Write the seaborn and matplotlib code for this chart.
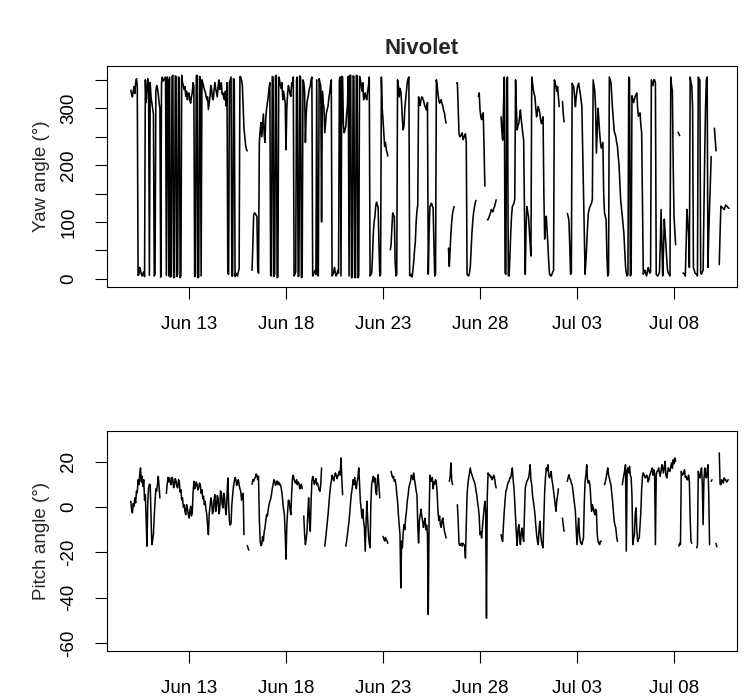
import numpy as np
import pandas as pd
import matplotlib
matplotlib.use("Agg")
import matplotlib.pyplot as plt
import seaborn as sns

nan = np.nan

# ---------------- data (hourly samples, 24 per day, from Jun 10 00:00) ----------------
start_time = "2013-06-10 00:00"
sample_hours = 1

yaw_angle = [
    332, 325, 320, 330, 338, 326, 345, 352, 340, 6, 8, 20, 15, 8, 5, 10, 12, 4, 350, 310, 330, 352, 345, 6,            # Jun 10
    345, 320, 310, 300, 290, 5, 8, 330, 340, 335, 325, 310, 300, 3, 345, 355, 348, 350, 352, 355, 6, 355, 350, 5,      # Jun 11
    355, 3, 5, 356, 358, 2, 3, 357, 356, 4, 8, 355, 352, 2, 6, 358, 345, 340, 333, 338, 321, 330, 315, 325,            # Jun 12
    327, 315, 309, 320, 327, 345, 339, 4, 5, 357, 358, 2, 3, 356, 355, 5, 350, 345, 339, 333, 330, 322, 315, 320,      # Jun 13
    298, 310, 321, 340, 333, 318, 315, 332, 345, 335, 327, 320, 339, 350, 333, 340, 345, 325, 327, 318, 315, 330, 304, 345,  # Jun 14
    10, 8, 345, 350, 355, 5, 5, 352, 350, 4, 10, 6, 5, 12, 18, 356, 355, 350, 340, 300, 265, 250, 235, 228,            # Jun 15
    225, nan, nan, nan, nan, nan, 15, 60, 112, 116, 115, 112, 110, 20, 10, 240, 260, 275, 250, 270, 290, 255, 240, 285,  # Jun 16
    300, 310, 320, 335, 345, 6, 5, 356, 355, 4, 8, 357, 358, 2, 3, 355, 350, 340, 335, 345, 315, 330, 320, 310,        # Jun 17
    227, 300, 327, 340, 333, 325, 321, 345, 339, 355, 5, 8, 12, 350, 355, 4, 5, 357, 355, 2, 3, 350, 345, 330,         # Jun 18
    240, 290, 310, 318, 327, 335, 339, 350, 355, 5, 8, 12, 15, 8, 350, 6, 5, 352, 345, 340, 100, 330, 310, 300,        # Jun 19
    257, 275, 292, 298, 304, 318, 327, 340, 350, 5, 8, 12, 20, 10, 5, 8, 15, 10, 350, 355, 5, 356, 355, 270,           # Jun 20
    257, 262, 268, 290, 304, 356, 5, 358, 358, 2, 3, 357, 356, 3, 2, 358, 357, 2, 5, 356, 350, 340, 330, 345,          # Jun 21
    315, 322, 327, 318, 315, 330, 339, 355, 5, 8, 10, 40, 80, 100, 110, 128, 135, 130, 125, 60, 5, 8, 355, 300,        # Jun 22
    280, 255, 233, 240, 228, 222, 216, nan, nan, 51, 60, 90, 116, 112, 110, 30, 5, 8, 350, 340, 320, 335, 330, 310,    # Jun 23
    279, 262, 270, 300, 315, 330, 345, 352, 355, 6, 5, 8, 3, 15, 30, 50, 65, 100, 120, 130, 320, 310, 305, 315,        # Jun 24
    320, 318, 314, 308, 303, 300, 297, 310, 8, 80, 127, 130, 133, 128, 125, 60, 5, 8, 350, 340, 326, 315, 309, 312,    # Jun 25
    315, 308, 304, 296, 292, 282, 274, nan, nan, 54, 22, 50, 80, 100, 115, 122, 127, nan, nan, 344, 345, 300, 256, 250,  # Jun 26
    251, 254, 257, 245, 248, 252, 255, 240, 8, 6, 5, 10, 22, 50, 81, 100, 116, 125, 133, 138, nan, nan, 321, 327,      # Jun 27
    298, 285, 280, 290, 292, 230, 163, nan, nan, 104, 104, 108, 112, 116, 122, 119, 118, 124, 127, 133, 139, nan, nan, nan,  # Jun 28
    nan, nan, 285, 260, 244, 300, 355, 10, 8, 350, 355, 6, 5, 40, 80, 110, 127, 130, 133, 140, 350, 300, 262, 270,     # Jun 29
    273, 285, 297, 280, 268, 255, 244, 120, 8, 90, 127, 118, 110, 85, 62, 40, 355, 345, 332, 325, 320, 300, 285, 295,  # Jun 30
    303, 298, 291, 280, 273, 278, 285, 150, 70, 95, 110, 85, 60, 30, 9, 6, 5, 8, 12, 15, 350, 345, 338, 330,           # Jul 01
    338, 320, 303, nan, nan, nan, 312, 290, 276, nan, nan, nan, 115, 110, 103, 60, 8, 10, 344, 340, 338, 320, 303, 320,  # Jul 02
    332, 340, 344, 335, 326, 315, 303, 230, 150, 80, 8, 30, 60, 90, 115, 122, 127, 130, 133, 140, 350, 340, 330, 300,  # Jul 03
    221, 260, 300, 280, 257, 240, 230, 235, 240, 150, 116, 110, 104, 40, 5, 8, 355, 350, 345, 320, 298, 280, 260, 255,  # Jul 04
    250, 240, 233, 215, 200, 170, 139, 125, 110, 95, 80, 50, 22, 10, 5, 8, 355, 350, 5, 8, 322, 315, 310, 316,         # Jul 05
    321, 324, 327, 300, 286, 290, 292, 270, 257, 130, 8, 12, 15, 10, 5, 12, 20, 15, 10, 12, 350, 345, 340, 350,        # Jul 06
    350, 345, 8, 6, 5, 8, 12, 60, 122, 60, 5, 50, 105, 80, 60, 35, 15, 10, 8, 5, 355, 340, 330, 200,                   # Jul 07
    110, 85, 60, nan, nan, 258, 255, 252, nan, nan, nan, 10, 10, 8, 5, 60, 122, 100, 80, 20, 355, 345, 340, 300,       # Jul 08
    20, 15, 10, 9, 8, 5, 355, 352, 350, 10, 8, 12, 15, 120, 220, 300, 350, 355, 20, 80, 127, 170, 215, nan,            # Jul 09
    nan, nan, 265, 245, 225, nan, nan, nan, 25, 80, 128, 126, 125, 124, 122, 126, 130, 128, 127, 125, 124, nan, nan, nan,  # Jul 10
]

pitch_angle = [
    2.5, -1, -2.6, 1.5, 0.3, 4, 1.8, 7, 6.2, 12, 9.8, 14, 17.2, 11, 13.5, 9, 12, 3, 5.4, -6, -17.3, 2, 8.4, 10,                  # Jun 10
    9.8, -4, -16.6, -15, -12, -4, 2.5, 8, 7, 10, 13.5, 9, 4, nan, nan, nan, nan, nan, nan, nan, 6, 10, 13, 11,                  # Jun 11
    12.8, 10.5, 9.8, 13, 12, 8.5, 9.8, 12.5, 11.3, 9, 8.4, 12, 11.3, 6.5, 7.6, 3, 4, 0, 1, -2, -3.4, 1, -0.4, -3,               # Jun 12
    -4.9, -2, 0.3, -4, -2.6, 6, 11.3, 8, 9.1, 11, 9.8, 7.5, 8.4, 10.5, 9.8, 6, 7.6, 3.5, 4.7, 1, 2.5, -1, -3.4, -8,             # Jun 13
    -12.2, -3, 0.3, 4, 2.5, -3, -1.9, 3, 5.4, -2, 0.3, 5, 4, -3, -1.2, 7, 6.2, 1, -0.4, 6, 4, -1, -3.4, 5,                      # Jun 14
    12.8, 2, -6.3, -8, -7, 1, 5.4, 9, 11.3, 13, 12, 9.5, 10.5, 12, 9.8, 8, 6.9, 3, 5.4, 6, -12.2, nan, nan, nan,                # Jun 15
    -17, -18, -19, nan, nan, nan, 10, 12, 11.3, 12.5, 13, 14.5, 14, 12, 13.5, -5, -15, -17, -16.6, -13, -15, -11, -9, -6,       # Jun 16
    -3.4, -4, -1.2, 1, 2.5, 3.5, 5.4, 8, 9.8, 12, 11.3, 9.5, 10.5, 11.5, 9.8, 11, 9.8, 10, 8.4, 6, 2.5, -1, -3.4, -12,          # Jun 17
    -23, -8, -2, 3, 2.5, -1, -3.4, 6, 12.8, 14, 12, 11, 10.5, 12, 9.8, 11, 10.5, 8, 9, 10, 8, nan, -4, -12,                     # Jun 18
    -16.6, -14, -10.7, -3, 4, -6, -10.7, 2, 11.3, 13.5, 12, 10, 11.3, 12.5, 9.8, 10.5, 9, 7.5, 6.9, 10, 17.2, nan, nan, nan,    # Jun 19
    -17.3, -14, -10.7, -7, -3.4, 1, 5.4, 9, 11.3, 14, 12.8, 11.5, 13.5, 15, 14.2, 12.5, 13.5, 14.5, 15.7, 14, 21.6, 13, 5.4, nan,  # Jun 20
    nan, nan, -17.3, -15, -12.2, -9, -6.3, -2, 2.5, 6, 8.4, 12, 9.8, 13, 9.8, 8, 11.3, 13, 17.2, 10, 2.5, -1, -4.9, -1,         # Jun 21
    -6.3, -9, -19.5, -8, 2.5, -5, -12.2, -16, -18, 2, 9.8, 12, 13.5, 11, 12.8, 7, 5.4, 12, 14.2, 9, 4, nan, nan, nan,           # Jun 22
    -13, -14, -15, -13.5, -14.5, -15, -16, nan, nan, nan, 15.7, 14, 12.8, 13.5, 11.3, 12, 9.8, 6, 2.5, -3, -8, -12, -35.7, -15,  # Jun 23
    -18, -11, -7.8, -10, -4.9, -2, 2.5, 5, 8.4, 10, 11.3, 14, 13.5, 12, 15, 12, 9.8, 7, 5.4, -8, -15.9, -6, -3.4, -1,           # Jun 24
    -4, -6, -9, -7, -5, -10, -8, -12, -47.4, -5, 14, 12, 11.3, 13, 8, 11, 10, 12, 11, 6, -2, -6, -4, -8,                        # Jun 25
    -9, -6, -4.9, -8, -10.7, -12, -13.7, nan, nan, nan, 11.3, 13, 19.4, 12, 9.8, nan, nan, nan, nan, nan, 1, -6, -16, -17,      # Jun 26
    -16.6, -16, -17.3, -16, -16.6, -17, -22.5, -8, 5.4, 10, 12.8, 15, 17.2, 15, 14.2, 13, 12, 11, 9.8, 7, 5.4, 2, -0.4, -4,     # Jun 27
    -12.2, -11, -13.7, -9, -4.9, -1, 2.5, -2, -49, 5, 15, 14, 14.2, 13, 13.5, 12, 12.8, 14, 12.8, 10, 8.4, nan, nan, nan,       # Jun 28
    nan, nan, -12.2, -14, -15.2, -8, -1.9, 3, 6.9, 8, 9.8, 11, 11.3, 13, 12.8, 15, 17.2, 12, 8.4, 2, -4.9, -12, -17, -10,       # Jun 29
    -7.8, -13, -16.6, -11, -9.3, -13, -15.2, -3, 8.4, 10, 11.3, 12, 12.8, 15, 18.6, 12, 9.8, 5, 2.5, 0, -3.4, -8, -12.2, -15,   # Jun 30
    -16.6, -10, -6.3, -12, -15.2, -17, -18, -5, 6.9, 13, 17.2, 16, 18.6, 14, 12.8, 14, 15.7, 12, 9.8, 7, 4, 1, -1.9, 3,         # Jul 01
    5, 8, nan, nan, nan, nan, -4.9, -8, -10.7, nan, nan, nan, 11.3, 13, 14.2, 12.5, 12, 10.5, 9.8, 7, 4, 1, -1.9, -10,          # Jul 02
    -16.6, -10, -4.9, -12, -15, -16, -16.6, -15, -13.7, 2, 11.3, 14, 18.6, 12, 10.5, 11.5, 9.8, 4, -1.9, 1, -0.4, -2, -3.4, -1,  # Jul 03
    -1.9, -12, -15.2, -16, -16.6, -15, -15.2, nan, nan, nan, 9.8, 11, 12.8, 15, 17.2, 14, 12.8, 11, 9.8, 6, 2.5, -2, -6.3, -8,  # Jul 04
    -9.3, -13, -15.2, nan, nan, nan, nan, nan, 9.8, 12, 14.2, 16, 18.6, -19.5, 16, 17.2, 15, 17.9, 14, 12.8, 5, -16.6, -14, -12.2,  # Jul 05
    -3, -0.4, -10, -15.2, -14, -13.7, -8, -1.9, 8, 13.5, 15, 14.2, 13, 12.8, 14, 13.5, 11, 12, 14, 15, 16, 17.2, 14, 16.4,      # Jul 06
    15, -16.6, 14, 15.7, 16, 17.2, 15, 13.5, 16, 18.6, 17, 15, 18, 20.1, 14, 12.8, 15, 17.2, 16, 15.7, 18, 19.4, 17, 20.8,      # Jul 07
    19, 21.6, 20, nan, nan, nan, -17.3, -16, -16.6, 15.7, 14, 14.2, 15, 16.4, 13, 13.5, 12, 12, 14, 11.3, -5, -15.2, -16, nan,  # Jul 08
    nan, nan, nan, nan, -18, -17, 15.7, 14, 12.8, 15, 17.2, 10, -7.8, 12, 17.2, 14, 12.8, 16, 18.6, 5, -16.6, nan, 11.3, 12,    # Jul 09
    nan, nan, nan, nan, -16, -17.5, nan, nan, 23.8, 10, 9.8, 12, 11.3, 10.5, 12.8, 12, 12, 11, 11.3, 12, nan, nan, nan, nan,    # Jul 10
]

tick_dates = ["2013-06-13", "2013-06-18", "2013-06-23", "2013-06-28", "2013-07-03", "2013-07-08"]
tick_labels = ["Jun 13", "Jun 18", "Jun 23", "Jun 28", "Jul 03", "Jul 08"]
yaw_ticks = [0, 50, 100, 150, 200, 250, 300, 350]
yaw_tick_labels = ["0", "", "100", "", "200", "", "300", ""]
pitch_ticks = [-60, -40, -20, 0, 20]
pitch_tick_labels = ["-60", "-40", "-20", "0", "20"]
title = "Nivolet"

assert len(yaw_angle) == 31 * 24, len(yaw_angle)
assert len(pitch_angle) == 31 * 24, len(pitch_angle)

# ---------------- build frames ----------------
def make_frame(values, name):
    v = np.asarray(values, dtype=float)
    t = pd.Timestamp(start_time) + pd.to_timedelta(np.arange(len(v)) * sample_hours, unit="h")
    seg = np.cumsum(np.isnan(v))
    df = pd.DataFrame({"time": t, name: v, "seg": seg})
    return df.dropna()

df_yaw = make_frame(yaw_angle, "yaw")
df_pitch = make_frame(pitch_angle, "pitch")

# ---------------- style ----------------
sns.set_style("white")
plt.rcParams["font.family"] = ["Liberation Sans", "DejaVu Sans"]
plt.rcParams["axes.edgecolor"] = "black"
plt.rcParams["axes.linewidth"] = 0.8

W, H = 747, 700
fig = plt.figure(figsize=(W / 100, H / 100), dpi=100)
left, right = 107, 737
ax1 = fig.add_axes([left / W, 1 - 287 / H, (right - left) / W, 221 / H])
ax2 = fig.add_axes([left / W, 1 - 651.3 / H, (right - left) / W, 220.6 / H])

t0 = pd.Timestamp(start_time)
xlim = (t0 + pd.Timedelta(days=-1.227), t0 + pd.Timedelta(days=31.247))

sns.lineplot(data=df_yaw, x="time", y="yaw", units="seg", estimator=None,
             color="black", lw=1.15, ax=ax1, legend=False)
sns.lineplot(data=df_pitch, x="time", y="pitch", units="seg", estimator=None,
             color="black", lw=1.1, ax=ax2, legend=False)

for ax in (ax1, ax2):
    ax.set_xlim(*xlim)
    ax.set_xticks(pd.to_datetime(tick_dates))
    ax.set_xticklabels(tick_labels)
    ax.set_xlabel("")
    for s in ax.spines.values():
        s.set_visible(True)
        s.set_color("black")
        s.set_linewidth(0.8)
    ax.tick_params(axis="both", direction="out", length=8.5, width=0.8,
                   labelsize=13.5, colors="black", bottom=True, left=True)
    ax.tick_params(axis="x", pad=12.5)
    ax.tick_params(axis="y", pad=13)

ax1.set_ylim(-14.4, 374.4)
ax1.set_yticks(yaw_ticks)
ax1.set_yticklabels(yaw_tick_labels, rotation=90, va="center")
ax1.set_ylabel("Yaw angle (°)", fontsize=13.5)
ax1.yaxis.set_label_coords(-0.090, 0.5)

ax2.set_ylim(-63.6, 33.6)
ax2.set_yticks(pitch_ticks)
ax2.set_yticklabels(pitch_tick_labels, rotation=90, va="center")
ax2.set_ylabel("Pitch angle (°)", fontsize=13.5)
ax2.yaxis.set_label_coords(-0.090, 0.5)

fig.text(422 / W, 1 - 48 / H, title, ha="center", va="center",
         fontsize=16, fontweight="bold")

fig.savefig("out.png", dpi=100, facecolor="white")
